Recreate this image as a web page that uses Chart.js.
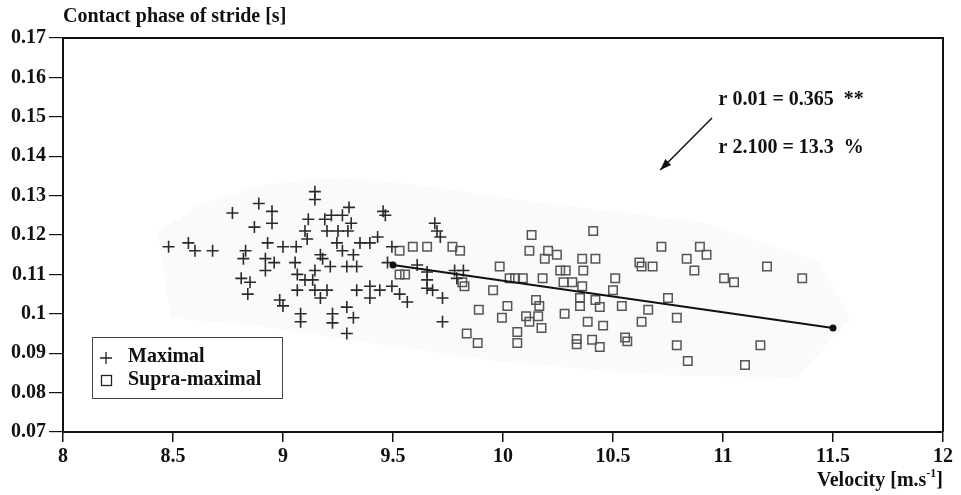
<!DOCTYPE html>
<html>
<head>
<meta charset="utf-8">
<script src="https://cdn.jsdelivr.net/npm/chart.js@4/dist/chart.umd.min.js"></script>
<style>
  html, body { margin: 0; padding: 0; background: #fff; }
  #wrap { width: 961px; height: 495px; }
</style>
</head>
<body>
<div id="wrap"><canvas id="chart" width="961" height="495"></canvas></div>
<script>
// tick positions and labels
var xTicks = [8, 8.5, 9, 9.5, 10, 10.5, 11, 11.5, 12];
var xTickLabels = ['8', '8.5', '9', '9.5', '10', '10.5', '11', '11.5', '12'];
var yTicks = [0.07, 0.08, 0.09, 0.1, 0.11, 0.12, 0.13, 0.14, 0.15, 0.16, 0.17];
var yTickLabels = ['0.07', '0.08', '0.09', '0.1', '0.11', '0.12', '0.13', '0.14', '0.15', '0.16', '0.17'];

// Maximal velocity runs: velocity [m/s], contact phase [s]
var maximalX = [8.48, 8.57, 8.6, 8.68, 8.77, 8.89, 8.87, 8.95, 8.95, 8.93, 8.83, 8.82, 8.92, 8.92, 8.96,
  9.0, 9.06, 9.055, 9.145, 9.145, 9.115, 9.19, 9.1, 9.11, 9.065, 9.145, 9.17, 9.18, 8.81, 8.85, 8.84,
  8.985, 9.0, 9.08, 9.065, 9.1, 9.135, 9.145, 9.17, 9.2, 9.08,
  9.3, 9.22, 9.27, 9.31, 9.455, 9.465, 9.2, 9.25, 9.295, 9.245, 9.27, 9.32, 9.35, 9.395, 9.43,
  9.215, 9.29, 9.335, 9.495, 9.475, 9.61, 9.655, 9.655, 9.69, 9.7, 9.715, 9.78, 9.82, 9.79,
  9.335, 9.395, 9.395, 9.44, 9.495, 9.53, 9.565, 9.655, 9.68, 9.725, 9.29, 9.225, 9.225, 9.32, 9.29, 9.725];
var maximalY = [0.117, 0.118, 0.116, 0.116, 0.1256, 0.128, 0.122, 0.126, 0.123, 0.118, 0.116, 0.114, 0.114, 0.111, 0.113,
  0.117, 0.117, 0.113, 0.131, 0.129, 0.124, 0.124, 0.121, 0.119, 0.110, 0.111, 0.115, 0.114, 0.109, 0.108, 0.105,
  0.1035, 0.102, 0.100, 0.106, 0.1086, 0.1086, 0.106, 0.104, 0.106, 0.098,
  0.127, 0.125, 0.125, 0.123, 0.126, 0.125, 0.121, 0.121, 0.121, 0.118, 0.116, 0.115, 0.118, 0.118, 0.1195,
  0.112, 0.112, 0.112, 0.117, 0.113, 0.1124, 0.1106, 0.1086, 0.123, 0.121, 0.1195, 0.111, 0.111, 0.109,
  0.106, 0.107, 0.104, 0.106, 0.107, 0.105, 0.103, 0.1065, 0.106, 0.104, 0.1017, 0.100, 0.0977, 0.099, 0.095, 0.098];

// Supra-maximal velocity runs
var supraX = [9.53, 9.59, 9.655, 9.77, 9.805, 9.53, 9.555, 9.815, 9.825, 10.13, 10.41, 10.12, 10.205, 10.245,
  10.19, 10.36, 10.42, 9.985, 10.26, 10.285, 10.365, 10.03, 10.055, 10.09, 10.18, 10.275, 10.315, 10.36,
  9.955, 10.15, 10.165, 10.35, 10.35, 10.42, 10.44, 9.89, 10.02, 9.995, 10.105, 10.16, 10.12, 10.28,
  10.385, 10.455, 10.175, 9.835, 9.885, 10.065, 10.065, 10.335, 10.335, 10.405, 10.44,
  10.72, 10.895, 10.925, 10.835, 10.87, 10.62, 10.63, 10.68, 11.2, 10.51, 10.5, 11.005, 11.05, 10.75,
  10.54, 10.66, 10.79, 10.63, 10.555, 10.565, 10.79, 11.17, 10.84, 11.1, 11.36];
var supraY = [0.116, 0.117, 0.117, 0.117, 0.116, 0.110, 0.110, 0.108, 0.107, 0.120, 0.121, 0.116, 0.116, 0.115,
  0.114, 0.114, 0.114, 0.112, 0.111, 0.111, 0.111, 0.109, 0.109, 0.109, 0.109, 0.108, 0.108, 0.107,
  0.106, 0.1035, 0.102, 0.104, 0.102, 0.1035, 0.1017, 0.101, 0.102, 0.099, 0.0994, 0.0994, 0.098, 0.100,
  0.098, 0.097, 0.0964, 0.095, 0.0926, 0.0954, 0.0926, 0.0936, 0.0923, 0.0934, 0.0916,
  0.117, 0.117, 0.115, 0.114, 0.111, 0.113, 0.112, 0.112, 0.112, 0.109, 0.106, 0.109, 0.108, 0.104,
  0.102, 0.101, 0.099, 0.098, 0.094, 0.093, 0.092, 0.092, 0.088, 0.087, 0.109];

// regression line end points
var fitX = [9.5, 11.5];
var fitY = [0.1124, 0.0964];

// light grey envelope behind the points
var hullX = [8.43, 8.62, 8.9, 9.25, 9.62, 10.08, 10.9, 11.44, 11.58, 11.33, 10.67, 9.99, 9.3, 8.85, 8.49, 8.43];
var hullY = [0.1208, 0.1276, 0.1327, 0.1347, 0.1327, 0.1289, 0.1233, 0.1131, 0.0984, 0.0837, 0.0845, 0.0878, 0.0934, 0.0972, 0.0989, 0.1208];

function pairs(xs, ys) {
  var out = [];
  for (var i = 0; i < xs.length; i++) out.push({ x: xs[i], y: ys[i] });
  return out;
}

var FONT = 'bold 20px "Liberation Serif", "Times New Roman", serif';

var decorations = {
  id: 'decorations',
  afterDraw: function(chart) {
    var ctx = chart.ctx, a = chart.chartArea;
    var xs = chart.scales.x, ys = chart.scales.y;
    ctx.save();

    // frame top and right
    ctx.strokeStyle = '#111';
    ctx.lineWidth = 2;
    ctx.beginPath();
    ctx.moveTo(a.left, a.top);
    ctx.lineTo(a.right, a.top);
    ctx.lineTo(a.right, a.bottom);
    ctx.stroke();

    ctx.fillStyle = '#111';
    ctx.font = FONT;
    ctx.textBaseline = 'middle';

    // y title
    ctx.textAlign = 'left';
    ctx.fillText('Contact phase of stride [s]', a.left, 17);

    // x title with superscript
    var base = 'Velocity [m.s', sup = '-1', tail = ']';
    var wBase = ctx.measureText(base).width;
    var wTail = ctx.measureText(tail).width;
    ctx.font = 'bold 12px "Liberation Serif", serif';
    var wSup = ctx.measureText(sup).width;
    var x0 = a.right - wBase - wSup - wTail;
    ctx.font = FONT;
    ctx.fillText(base, x0, 481);
    ctx.font = 'bold 12px "Liberation Serif", serif';
    ctx.fillText(sup, x0 + wBase, 474);
    ctx.font = FONT;
    ctx.fillText(tail, x0 + wBase + wSup, 481);

    // correlation text
    ctx.fillText('r 0.01 = 0.365  **', xs.getPixelForValue(10.98), ys.getPixelForValue(0.1543));
    ctx.fillText('r 2.100 = 13.3  %', xs.getPixelForValue(10.98), ys.getPixelForValue(0.1421));

    // arrow
    var ax1 = xs.getPixelForValue(10.95), ay1 = ys.getPixelForValue(0.1497);
    var ax2 = xs.getPixelForValue(10.715), ay2 = ys.getPixelForValue(0.1365);
    ctx.lineWidth = 1.5;
    ctx.beginPath();
    ctx.moveTo(ax1, ay1);
    ctx.lineTo(ax2, ay2);
    ctx.stroke();
    var ang = Math.atan2(ay2 - ay1, ax2 - ax1);
    ctx.beginPath();
    ctx.moveTo(ax2, ay2);
    ctx.lineTo(ax2 - 12 * Math.cos(ang - 0.35), ay2 - 12 * Math.sin(ang - 0.35));
    ctx.lineTo(ax2 - 12 * Math.cos(ang + 0.35), ay2 - 12 * Math.sin(ang + 0.35));
    ctx.closePath();
    ctx.fill();

    // legend box
    var lx = a.left + 29, ly = 337;
    ctx.strokeStyle = '#444';
    ctx.lineWidth = 1;
    ctx.strokeRect(lx + 0.5, ly + 0.5, 190, 61);
    ctx.fillStyle = '#111';
    ctx.fillText('Maximal', lx + 36, ly + 20);
    ctx.fillText('Supra-maximal', lx + 36, ly + 43);
    ctx.strokeStyle = '#222';
    ctx.lineWidth = 1.3;
    ctx.beginPath();
    ctx.moveTo(lx + 8, ly + 21); ctx.lineTo(lx + 20, ly + 21);
    ctx.moveTo(lx + 14, ly + 15); ctx.lineTo(lx + 14, ly + 27);
    ctx.stroke();
    ctx.strokeRect(lx + 9.5, ly + 38.5, 10, 10);

    ctx.restore();
  }
};

new Chart(document.getElementById('chart'), {
  type: 'scatter',
  data: {
    datasets: [
      {
        label: 'Maximal',
        data: pairs(maximalX, maximalY),
        pointStyle: 'cross',
        pointRadius: 6,
        borderColor: '#2a2a2a',
        pointBorderWidth: 1.6,
        order: 2
      },
      {
        label: 'Supra-maximal',
        data: pairs(supraX, supraY),
        pointStyle: 'rect',
        pointRadius: 6,
        backgroundColor: 'rgba(0,0,0,0)',
        borderColor: '#555',
        pointBorderWidth: 1.5,
        order: 3
      },
      {
        label: 'fit',
        data: pairs(fitX, fitY),
        showLine: true,
        borderColor: '#111',
        borderWidth: 2,
        pointRadius: 2.5,
        pointStyle: 'circle',
        pointBackgroundColor: '#111',
        pointBorderColor: '#111',
        order: 1
      },
      {
        label: 'hull',
        data: pairs(hullX, hullY),
        showLine: true,
        fill: 'shape',
        backgroundColor: '#fafafa',
        borderColor: '#fafafa',
        borderWidth: 0,
        pointRadius: 0,
        order: 10
      }
    ]
  },
  options: {
    responsive: false,
    animation: false,
    events: [],
    layout: { padding: { top: 38, right: 18, left: 0, bottom: 0 } },
    plugins: {
      legend: { display: false },
      tooltip: { enabled: false }
    },
    scales: {
      x: {
        type: 'linear',
        min: 8,
        max: 12,
        afterBuildTicks: function(s) { s.ticks = xTicks.map(function(v) { return { value: v }; }); },
        afterFit: function(s) { s.height = 63; },
        border: { display: true, color: '#111', width: 2 },
        grid: { display: true, drawOnChartArea: false, tickLength: 10, color: '#111', lineWidth: 1.5 },
        ticks: {
          padding: 3,
          color: '#111',
          font: { family: '"Liberation Serif", "Times New Roman", serif', size: 20, weight: 'bold' },
          maxRotation: 0,
          autoSkip: false,
          callback: function(v, i) { return xTickLabels[i]; }
        }
      },
      y: {
        type: 'linear',
        min: 0.07,
        max: 0.17,
        afterBuildTicks: function(s) { s.ticks = yTicks.map(function(v) { return { value: v }; }); },
        afterFit: function(s) { s.width = 63; },
        border: { display: true, color: '#111', width: 2 },
        grid: { display: true, drawOnChartArea: false, tickLength: 14, color: '#111', lineWidth: 1.2 },
        ticks: {
          padding: 3,
          color: '#111',
          font: { family: '"Liberation Serif", "Times New Roman", serif', size: 20, weight: 'bold' },
          autoSkip: false,
          callback: function(v, i) { return yTickLabels[i]; }
        }
      }
    }
  },
  plugins: [decorations]
});
</script>
</body>
</html>
